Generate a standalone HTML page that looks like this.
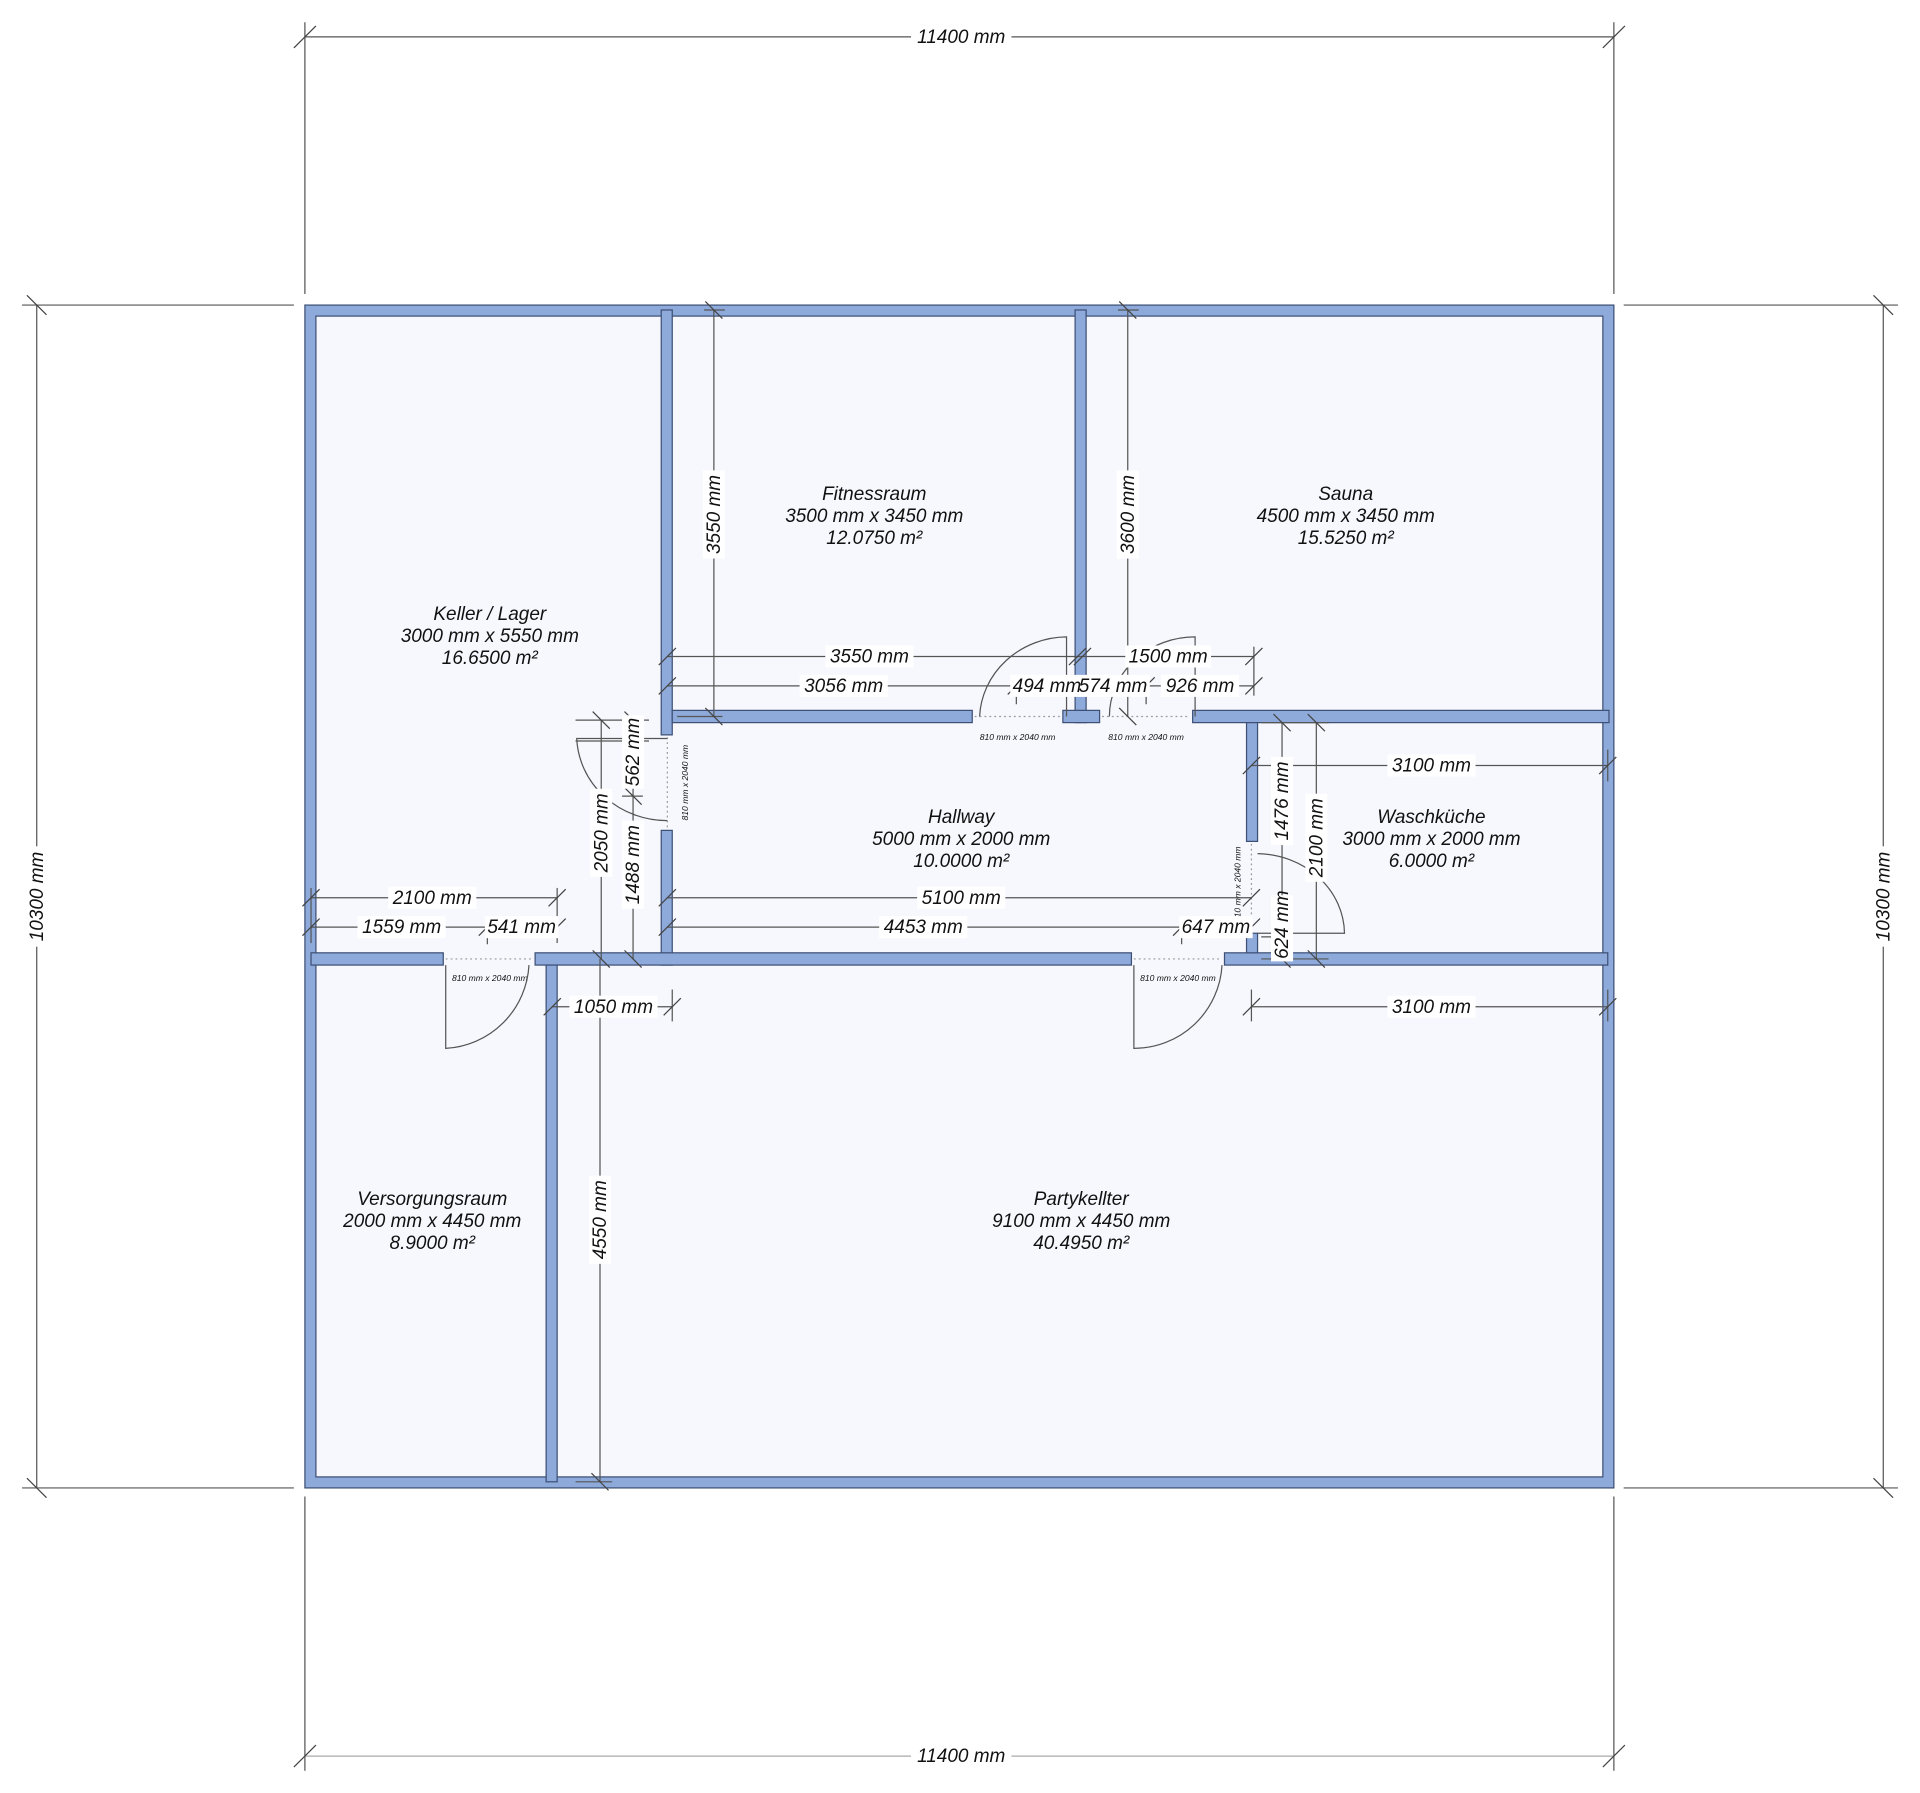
<!DOCTYPE html>
<html><head><meta charset="utf-8">
<style>
html,body{margin:0;padding:0;background:#fff;}
svg{display:block;}
text{font-family:"Liberation Sans",sans-serif;font-style:italic;fill:#111;}
.d{stroke:#555;stroke-width:1;fill:none;}
.t{stroke:#444;stroke-width:1;}
.w{fill:#8eaadb;stroke:#3d4f75;stroke-width:1;}
.lbl{font-size:15.5px;}
.rm{font-size:15.5px;}
.sm{font-size:7px;}
.bg{fill:#fff;}
.dot{stroke:#999;stroke-width:1;stroke-dasharray:1.5 2.5;}
</style></head>
<body>
<svg width="1920" height="1793" viewBox="0 0 1568 1464" xmlns="http://www.w3.org/2000/svg">
<rect width="1568" height="1464" fill="#fff"/>

<g class="d">
<line x1="249" y1="18" x2="249" y2="240"/><line x1="1318" y1="18" x2="1318" y2="240"/>
<line x1="249" y1="30" x2="1318" y2="30"/>
<line x1="249" y1="1222" x2="249" y2="1446"/><line x1="1318" y1="1222" x2="1318" y2="1446"/>
<line x1="249" y1="1434" x2="1318" y2="1434" stroke="#aaa"/>
<line x1="18" y1="249" x2="240" y2="249"/><line x1="18" y1="1215" x2="240" y2="1215"/>
<line x1="30" y1="249" x2="30" y2="1215"/>
<line x1="1326" y1="249" x2="1550" y2="249"/><line x1="1326" y1="1215" x2="1550" y2="1215"/>
<line x1="1538" y1="249" x2="1538" y2="1215"/>
</g>
<g class="t">
<line x1="240" y1="39" x2="258" y2="21"/><line x1="1309" y1="39" x2="1327" y2="21"/>
<line x1="240" y1="1443" x2="258" y2="1425"/><line x1="1309" y1="1443" x2="1327" y2="1425"/>
<line x1="22" y1="241" x2="38" y2="257"/><line x1="22" y1="1207" x2="38" y2="1223"/>
<line x1="1530" y1="241" x2="1546" y2="257"/><line x1="1530" y1="1207" x2="1546" y2="1223"/>
</g>
<rect class="bg" x="744" y="21" width="82" height="18"/>
<text class="lbl" x="785" y="35" text-anchor="middle">11400 mm</text>
<rect class="bg" x="744" y="1425" width="82" height="18"/>
<text class="lbl" x="785" y="1439" text-anchor="middle">11400 mm</text>
<rect class="bg" x="21" y="691" width="18" height="82"/>
<text class="lbl" x="35" y="732" text-anchor="middle" transform="rotate(-90 35 732)">10300 mm</text>
<rect class="bg" x="1529" y="691" width="18" height="82"/>
<text class="lbl" x="1543" y="732" text-anchor="middle" transform="rotate(-90 1543 732)">10300 mm</text>

<rect x="249" y="249" width="1069" height="966" class="w"/>
<rect x="258" y="258" width="1051" height="948" fill="#f7f8fd" stroke="#3d4f75" stroke-width="1"/>

<rect class="w" x="540" y="253" width="9" height="347"/>
<rect class="w" x="540" y="678" width="9" height="110"/>
<rect class="w" x="878" y="253" width="9" height="337"/>
<rect class="w" x="549" y="580" width="245" height="10"/>
<rect class="w" x="868" y="580" width="30" height="10"/>
<rect class="w" x="974" y="580" width="340" height="10"/>
<rect class="w" x="254" y="778" width="108" height="10"/>
<rect class="w" x="437" y="778" width="487" height="10"/>
<rect class="w" x="1000" y="778" width="313" height="10"/>
<rect class="w" x="1018" y="590" width="9" height="97"/>
<rect class="w" x="1018" y="762" width="9" height="16"/>
<rect class="w" x="446" y="788" width="9" height="422"/>

<g class="dot">
<line x1="796" y1="585" x2="867" y2="585"/>
<line x1="900" y1="585" x2="972" y2="585"/>
<line x1="364" y1="783" x2="435" y2="783"/>
<line x1="926" y1="783" x2="998" y2="783"/>
<line x1="545" y1="602" x2="545" y2="676"/>
<line x1="1022" y1="689" x2="1022" y2="760"/>
</g>
<g class="sm">
<text x="831" y="604" text-anchor="middle">810 mm x 2040 mm</text>
<text x="936" y="604" text-anchor="middle">810 mm x 2040 mm</text>
<text x="400" y="801" text-anchor="middle">810 mm x 2040 mm</text>
<text x="962" y="801" text-anchor="middle">810 mm x 2040 mm</text>
<text x="562" y="639" text-anchor="middle" transform="rotate(-90 562 639)">810 mm x 2040 mm</text>
<text x="1013" y="722" text-anchor="middle" transform="rotate(-90 1013 722)">810 mm x 2040 mm</text>
</g>

<g class="d">
<path d="M364 788 L364 856 A72 72 0 0 0 432 788"/>
<path d="M926 788 L926 856 A72 72 0 0 0 998 788"/>
<path d="M871 585 L871 520 A72 68 0 0 0 800 585"/>
<path d="M976 585 L976 520 A70 65 0 0 0 906 585"/>
<path d="M545 603 L471 603 A74 70 0 0 0 545 670"/>
<path d="M1027 762 L1098 762 A72 66 0 0 0 1027 697"/>
</g>

<g class="d">
<line x1="545" y1="536" x2="1024" y2="536"/>
<line x1="545" y1="560" x2="1024" y2="560"/>
<line x1="1022" y1="625" x2="1313" y2="625"/>
<line x1="254" y1="733" x2="455" y2="733"/>
<line x1="254" y1="757" x2="455" y2="757"/>
<line x1="545" y1="733" x2="1022" y2="733"/>
<line x1="545" y1="757" x2="1022" y2="757"/>
<line x1="451" y1="822" x2="549" y2="822"/>
<line x1="1022" y1="822" x2="1313" y2="822"/>
<line x1="583" y1="253" x2="583" y2="585"/>
<line x1="921" y1="253" x2="921" y2="585"/>
<line x1="1047" y1="590" x2="1047" y2="783"/>
<line x1="1075" y1="590" x2="1075" y2="783"/>
<line x1="491" y1="588" x2="491" y2="783"/>
<line x1="517" y1="588" x2="517" y2="783"/>
<line x1="490" y1="783" x2="490" y2="1210"/>
<line x1="1024" y1="528" x2="1024" y2="568"/>
<line x1="830" y1="556" x2="830" y2="575"/>
<line x1="936" y1="556" x2="936" y2="575"/>
<line x1="398" y1="752" x2="398" y2="771"/>
<line x1="455" y1="725" x2="455" y2="770"/>
<line x1="965" y1="752" x2="965" y2="771"/>
<line x1="549" y1="808" x2="549" y2="834"/>
<line x1="1022" y1="808" x2="1022" y2="834"/>
<line x1="1313" y1="808" x2="1313" y2="834"/>
<line x1="1313" y1="612" x2="1313" y2="638"/>
<line x1="254" y1="725" x2="254" y2="770"/>
<line x1="470" y1="588" x2="530" y2="588"/>
<line x1="470" y1="605" x2="530" y2="605"/>
<line x1="508" y1="650" x2="525" y2="650"/>
<line x1="1030" y1="590" x2="1085" y2="590"/>
<line x1="1030" y1="765" x2="1055" y2="765"/>
<line x1="1030" y1="783" x2="1085" y2="783"/>
<line x1="575" y1="253" x2="592" y2="253"/>
<line x1="913" y1="253" x2="930" y2="253"/>
<line x1="553" y1="585" x2="590" y2="585"/>
<line x1="470" y1="1210" x2="500" y2="1210"/>
</g>
<g class="t">
<line x1="538" y1="543" x2="552" y2="529"/><line x1="873" y1="543" x2="887" y2="529"/><line x1="1017" y1="543" x2="1031" y2="529"/><line x1="877" y1="543" x2="891" y2="529"/>
<line x1="538" y1="567" x2="552" y2="553"/><line x1="823" y1="567" x2="837" y2="553"/><line x1="873" y1="567" x2="887" y2="553"/><line x1="929" y1="567" x2="943" y2="553"/><line x1="1017" y1="567" x2="1031" y2="553"/>
<line x1="1015" y1="632" x2="1029" y2="618"/><line x1="1306" y1="632" x2="1320" y2="618"/>
<line x1="247" y1="740" x2="261" y2="726"/><line x1="448" y1="740" x2="462" y2="726"/>
<line x1="247" y1="764" x2="261" y2="750"/><line x1="391" y1="764" x2="405" y2="750"/><line x1="448" y1="764" x2="462" y2="750"/>
<line x1="538" y1="740" x2="552" y2="726"/><line x1="1015" y1="740" x2="1029" y2="726"/>
<line x1="538" y1="764" x2="552" y2="750"/><line x1="958" y1="764" x2="972" y2="750"/><line x1="1015" y1="764" x2="1029" y2="750"/>
<line x1="444" y1="829" x2="458" y2="815"/><line x1="542" y1="829" x2="556" y2="815"/>
<line x1="1015" y1="829" x2="1029" y2="815"/><line x1="1306" y1="829" x2="1320" y2="815"/>
<line x1="576" y1="246" x2="590" y2="260"/><line x1="576" y1="578" x2="590" y2="592"/>
<line x1="914" y1="246" x2="928" y2="260"/><line x1="914" y1="578" x2="928" y2="592"/>
<line x1="1040" y1="583" x2="1054" y2="597"/><line x1="1040" y1="758" x2="1054" y2="772"/><line x1="1040" y1="776" x2="1054" y2="790"/>
<line x1="1068" y1="583" x2="1082" y2="597"/><line x1="1068" y1="776" x2="1082" y2="790"/>
<line x1="484" y1="581" x2="498" y2="595"/><line x1="484" y1="776" x2="498" y2="790"/>
<line x1="510" y1="581" x2="524" y2="595"/><line x1="510" y1="643" x2="524" y2="657"/><line x1="510" y1="776" x2="524" y2="790"/>
<line x1="483" y1="1203" x2="497" y2="1217"/>
</g>

<g class="lbl">
<rect class="bg" x="674" y="527" width="72" height="18"/><text x="710" y="541" text-anchor="middle">3550 mm</text>
<rect class="bg" x="919" y="527" width="70" height="18"/><text x="954" y="541" text-anchor="middle">1500 mm</text>
<rect class="bg" x="653" y="551" width="72" height="18"/><text x="689" y="565" text-anchor="middle">3056 mm</text>
<rect class="bg" x="825" y="551" width="114" height="18"/><text x="855" y="565" text-anchor="middle">494 mm</text><text x="909" y="565" text-anchor="middle">574 mm</text>
<rect class="bg" x="948" y="551" width="64" height="18"/><text x="980" y="565" text-anchor="middle">926 mm</text>
<rect class="bg" x="1133" y="616" width="72" height="18"/><text x="1169" y="630" text-anchor="middle">3100 mm</text>
<rect class="bg" x="317" y="724" width="72" height="18"/><text x="353" y="738" text-anchor="middle">2100 mm</text>
<rect class="bg" x="292" y="748" width="72" height="18"/><text x="328" y="762" text-anchor="middle">1559 mm</text>
<rect class="bg" x="396" y="748" width="60" height="18"/><text x="426" y="762" text-anchor="middle">541 mm</text>
<rect class="bg" x="749" y="724" width="72" height="18"/><text x="785" y="738" text-anchor="middle">5100 mm</text>
<rect class="bg" x="718" y="748" width="72" height="18"/><text x="754" y="762" text-anchor="middle">4453 mm</text>
<rect class="bg" x="963" y="748" width="60" height="18"/><text x="993" y="762" text-anchor="middle">647 mm</text>
<rect class="bg" x="465" y="813" width="72" height="18"/><text x="501" y="827" text-anchor="middle">1050 mm</text>
<rect class="bg" x="1133" y="813" width="72" height="18"/><text x="1169" y="827" text-anchor="middle">3100 mm</text>
<rect class="bg" x="574" y="384" width="18" height="72"/><text x="588" y="420" text-anchor="middle" transform="rotate(-90 588 420)">3550 mm</text>
<rect class="bg" x="912" y="384" width="18" height="72"/><text x="926" y="420" text-anchor="middle" transform="rotate(-90 926 420)">3600 mm</text>
<rect class="bg" x="1038" y="618" width="18" height="72"/><text x="1052" y="654" text-anchor="middle" transform="rotate(-90 1052 654)">1476 mm</text>
<rect class="bg" x="1038" y="731" width="18" height="54"/><text x="1052" y="755" text-anchor="middle" transform="rotate(-90 1052 755)">624 mm</text>
<rect class="bg" x="1066" y="648" width="18" height="72"/><text x="1080" y="684" text-anchor="middle" transform="rotate(-90 1080 684)">2100 mm</text>
<rect class="bg" x="482" y="644" width="18" height="72"/><text x="496" y="680" text-anchor="middle" transform="rotate(-90 496 680)">2050 mm</text>
<rect class="bg" x="508" y="584" width="18" height="60"/><text x="522" y="614" text-anchor="middle" transform="rotate(-90 522 614)">562 mm</text>
<rect class="bg" x="508" y="670" width="18" height="72"/><text x="522" y="706" text-anchor="middle" transform="rotate(-90 522 706)">1488 mm</text>
<rect class="bg" x="481" y="960" width="18" height="72"/><text x="495" y="996" text-anchor="middle" transform="rotate(-90 495 996)">4550 mm</text>
</g>

<g class="rm" text-anchor="middle">
<text x="400" y="506">Keller / Lager</text><text x="400" y="524">3000 mm x 5550 mm</text><text x="400" y="542">16.6500 m²</text>
<text x="714" y="408">Fitnessraum</text><text x="714" y="426">3500 mm x 3450 mm</text><text x="714" y="444">12.0750 m²</text>
<text x="1099" y="408">Sauna</text><text x="1099" y="426">4500 mm x 3450 mm</text><text x="1099" y="444">15.5250 m²</text>
<text x="785" y="672">Hallway</text><text x="785" y="690">5000 mm x 2000 mm</text><text x="785" y="708">10.0000 m²</text>
<text x="1169" y="672">Waschküche</text><text x="1169" y="690">3000 mm x 2000 mm</text><text x="1169" y="708">6.0000 m²</text>
<text x="353" y="984">Versorgungsraum</text><text x="353" y="1002">2000 mm x 4450 mm</text><text x="353" y="1020">8.9000 m²</text>
<text x="883" y="984">Partykellter</text><text x="883" y="1002">9100 mm x 4450 mm</text><text x="883" y="1020">40.4950 m²</text>
</g>
</svg>
</body></html>
